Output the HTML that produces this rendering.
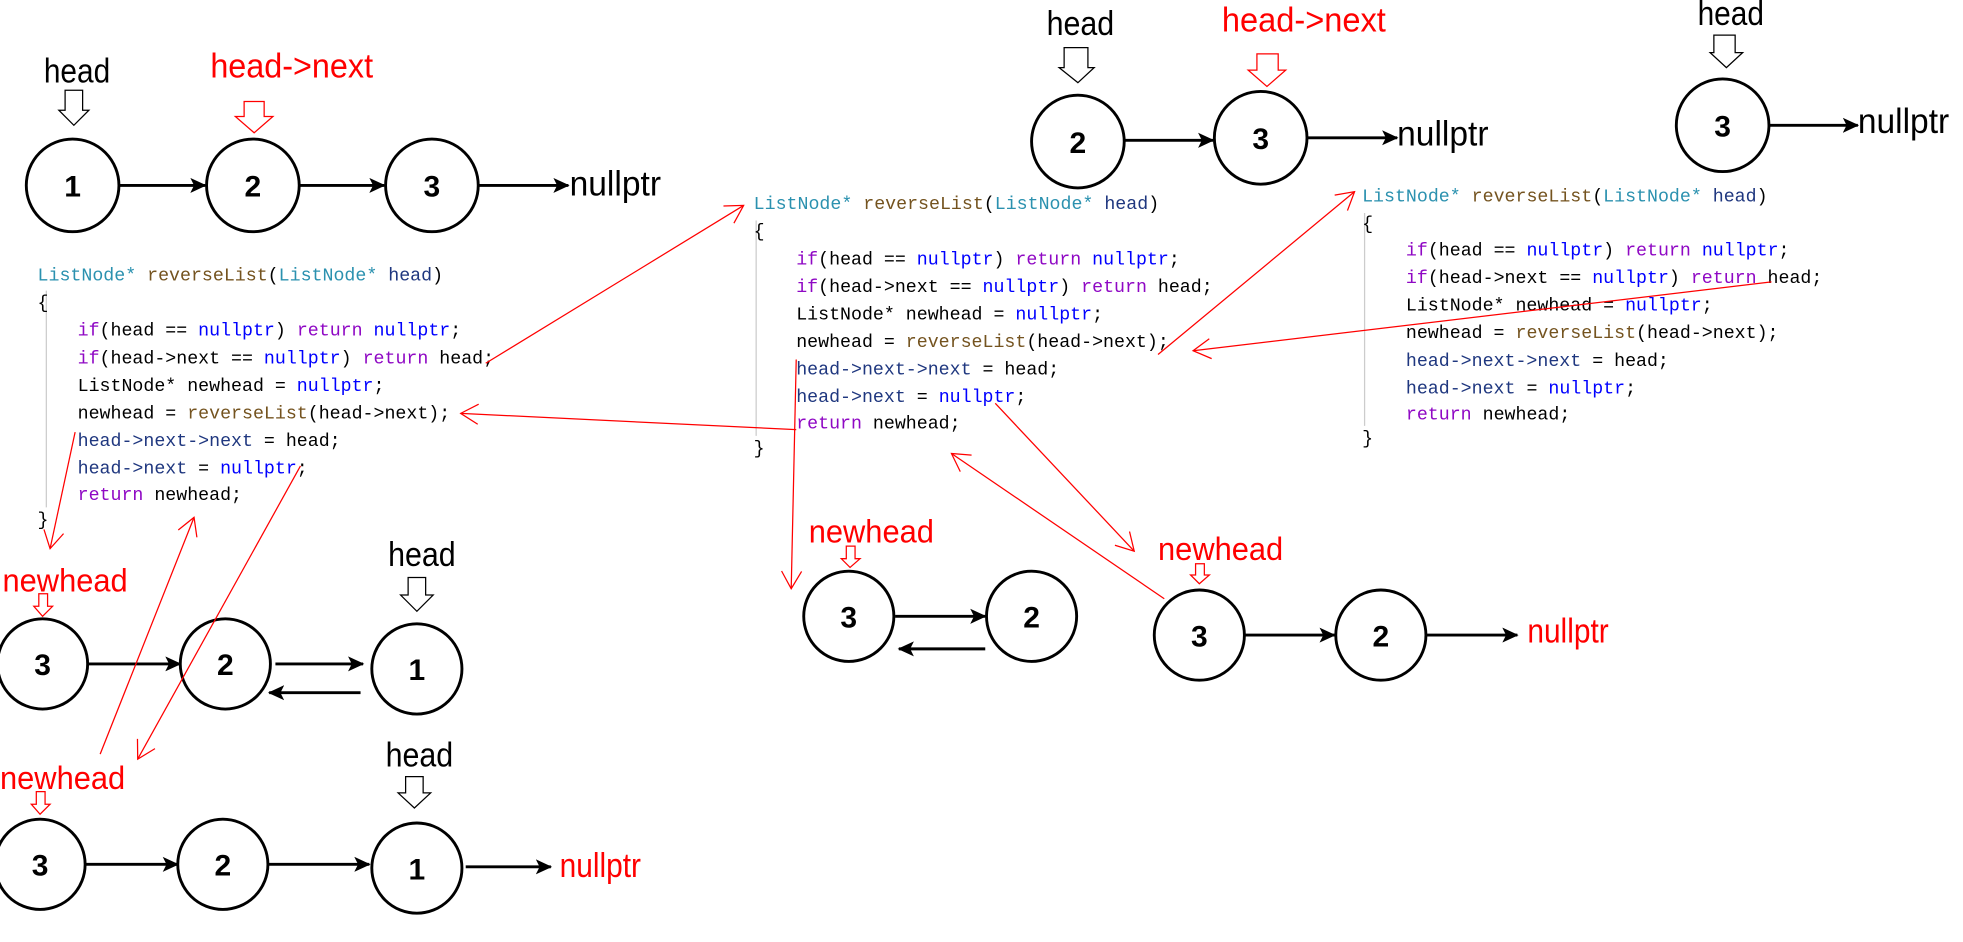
<!DOCTYPE html>
<html><head><meta charset="utf-8"><style>
html,body{margin:0;padding:0;background:#fff;}
svg{display:block;}
.h{font-family:"Liberation Sans",sans-serif;font-size:27px;}
.n{font-family:"Liberation Sans",sans-serif;font-size:24px;font-weight:bold;text-anchor:middle;}
.c{font-family:"Liberation Mono",monospace;font-size:14.6px;}
.t{fill:#2b91af}.b{fill:#74531f}.v{fill:#1f377f}.p{fill:#8f08c4}.u{fill:#0000ff}
</style></head><body>
<svg width="1963" height="942" viewBox="0 0 1568 752" preserveAspectRatio="none" xmlns="http://www.w3.org/2000/svg">
<defs>
<marker id="ba" markerUnits="userSpaceOnUse" markerWidth="14" markerHeight="14" refX="12" refY="7" orient="auto"><path d="M0,1 L13,7 L0,13 L3,7 Z" fill="#000"/></marker>
<marker id="ra" markerUnits="userSpaceOnUse" markerWidth="20" markerHeight="20" refX="18" refY="10" orient="auto"><path d="M4,2 L18,10 L4,18" fill="none" stroke="#f00" stroke-width="1"/></marker>
</defs>
<g fill="none" stroke="#000" stroke-width="2.3">
<circle cx="58" cy="148" r="37"/><circle cx="202" cy="148" r="37"/><circle cx="345" cy="148" r="37"/>
<line x1="95" y1="148" x2="164" y2="148" marker-end="url(#ba)"/>
<line x1="239" y1="148" x2="307" y2="148" marker-end="url(#ba)"/>
<line x1="382" y1="148" x2="454" y2="148" marker-end="url(#ba)"/>
<circle cx="861" cy="113" r="37"/><circle cx="1007" cy="110" r="37"/>
<line x1="898" y1="112" x2="969" y2="112" marker-end="url(#ba)"/>
<line x1="1044" y1="110" x2="1116" y2="110" marker-end="url(#ba)"/>
<circle cx="1376" cy="100" r="37"/>
<line x1="1413" y1="100" x2="1484" y2="100" marker-end="url(#ba)"/>
<circle cx="34" cy="530" r="36"/><circle cx="180" cy="530" r="36"/><circle cx="333" cy="534" r="36"/>
<line x1="70" y1="530" x2="144" y2="530" marker-end="url(#ba)"/>
<line x1="220" y1="530" x2="290" y2="530" marker-end="url(#ba)"/>
<line x1="288" y1="553" x2="215" y2="553" marker-end="url(#ba)"/>
<circle cx="32" cy="690" r="36"/><circle cx="178" cy="690" r="36"/><circle cx="333" cy="693" r="36"/>
<line x1="68" y1="690" x2="142" y2="690" marker-end="url(#ba)"/>
<line x1="214" y1="690" x2="295" y2="690" marker-end="url(#ba)"/>
<line x1="372" y1="692" x2="440" y2="692" marker-end="url(#ba)"/>
<circle cx="678" cy="492" r="36"/><circle cx="824" cy="492" r="36"/>
<line x1="715" y1="492" x2="787" y2="492" marker-end="url(#ba)"/>
<line x1="787" y1="518" x2="718" y2="518" marker-end="url(#ba)"/>
<circle cx="958" cy="507" r="36"/><circle cx="1103" cy="507" r="36"/>
<line x1="994" y1="507" x2="1066" y2="507" marker-end="url(#ba)"/>
<line x1="1139" y1="507" x2="1212" y2="507" marker-end="url(#ba)"/>
</g>
<g class="n">
<text x="58" y="157">1</text><text x="202" y="157">2</text><text x="345" y="157">3</text>
<text x="861" y="122">2</text><text x="1007" y="119">3</text><text x="1376" y="109">3</text>
<text x="34" y="539">3</text><text x="180" y="539">2</text><text x="333" y="543">1</text>
<text x="32" y="699">3</text><text x="178" y="699">2</text><text x="333" y="702">1</text>
<text x="678" y="501">3</text><text x="824" y="501">2</text>
<text x="958" y="516">3</text><text x="1103" y="516">2</text>
</g>
<g class="h">
<text x="35" y="66" textLength="53" lengthAdjust="spacingAndGlyphs">head</text>
<text x="168" y="62" fill="#f00" textLength="130" lengthAdjust="spacingAndGlyphs">head-&gt;next</text>
<text x="455" y="156" font-size="28" textLength="73" lengthAdjust="spacingAndGlyphs">nullptr</text>
<text x="836" y="28" textLength="54" lengthAdjust="spacingAndGlyphs">head</text>
<text x="976" y="25" fill="#f00" textLength="131" lengthAdjust="spacingAndGlyphs">head-&gt;next</text>
<text x="1116" y="116" font-size="28" textLength="73" lengthAdjust="spacingAndGlyphs">nullptr</text>
<text x="1356" y="20" textLength="53" lengthAdjust="spacingAndGlyphs">head</text>
<text x="1484" y="106" font-size="28" textLength="73" lengthAdjust="spacingAndGlyphs">nullptr</text>
<text x="2" y="472" fill="#f00" font-size="26" textLength="100" lengthAdjust="spacingAndGlyphs">newhead</text>
<text x="310" y="452" textLength="54" lengthAdjust="spacingAndGlyphs">head</text>
<text x="0" y="630" fill="#f00" font-size="26" textLength="100" lengthAdjust="spacingAndGlyphs">newhead</text>
<text x="308" y="612" textLength="54" lengthAdjust="spacingAndGlyphs">head</text>
<text x="447" y="700" fill="#f00" textLength="65" lengthAdjust="spacingAndGlyphs">nullptr</text>
<text x="646" y="433" fill="#f00" font-size="26" textLength="100" lengthAdjust="spacingAndGlyphs">newhead</text>
<text x="925" y="447" fill="#f00" font-size="26" textLength="100" lengthAdjust="spacingAndGlyphs">newhead</text>
<text x="1220" y="513" fill="#f00" textLength="65" lengthAdjust="spacingAndGlyphs">nullptr</text>
</g>
<g fill="#fff" stroke="#000" stroke-width="1">
<polygon points="52,72 66,72 66,88 71,88 59,100 47,88 52,88"/>
<polygon points="850,38 869,38 869,54 874,54 861,66 846,54 850,54"/>
<polygon points="1369,28 1386,28 1386,42 1392,42 1379,54 1366,42 1369,42"/>
<polygon points="326,461 340,461 340,475 346,475 333,488 320,475 326,475"/>
<polygon points="324,620 338,620 338,633 344,633 331,645 318,633 324,633"/>
</g>
<g fill="#fff" stroke="#f00" stroke-width="1">
<polygon points="195,81 211,81 211,93 218,93 203,106 188,93 195,93"/>
<polygon points="1004,43 1021,43 1021,56 1027,56 1012,69 997,56 1004,56"/>
<polygon points="31,474 38,474 38,484 42,484 34,492 27,484 31,484"/>
<polygon points="29,632 36,632 36,642 40,642 32,650 25,642 29,642"/>
<polygon points="676,436 683,436 683,446 687,446 679,453 672,446 676,446"/>
<polygon points="955,450 962,450 962,459 966,459 958,466 951,459 955,459"/>
</g>
<g stroke="#ccc" stroke-width="1"><line x1="37" y1="232" x2="37" y2="405"/><line x1="604" y1="176" x2="604" y2="348"/><line x1="1090" y1="170" x2="1090" y2="340"/></g>
<g class="c" xml:space="preserve">
<text x="30" y="224"><tspan class="t">ListNode*</tspan> <tspan class="b">reverseList</tspan>(<tspan class="t">ListNode*</tspan> <tspan class="v">head</tspan>)</text>
<text x="30" y="246">{</text>
<text x="62" y="268"><tspan class="p">if</tspan>(head == <tspan class="u">nullptr</tspan>) <tspan class="p">return</tspan> <tspan class="u">nullptr</tspan>;</text>
<text x="62" y="290"><tspan class="p">if</tspan>(head-&gt;next == <tspan class="u">nullptr</tspan>) <tspan class="p">return</tspan> head;</text>
<text x="62" y="312">ListNode* newhead = <tspan class="u">nullptr</tspan>;</text>
<text x="62" y="334">newhead = <tspan class="b">reverseList</tspan>(head-&gt;next);</text>
<text x="62" y="356"><tspan class="v">head-&gt;next-&gt;next</tspan> = head;</text>
<text x="62" y="378"><tspan class="v">head-&gt;next</tspan> = <tspan class="u">nullptr</tspan>;</text>
<text x="62" y="399"><tspan class="p">return</tspan> newhead;</text>
<text x="30" y="419">}</text>

<text x="602" y="167"><tspan class="t">ListNode*</tspan> <tspan class="b">reverseList</tspan>(<tspan class="t">ListNode*</tspan> <tspan class="v">head</tspan>)</text>
<text x="602" y="189">{</text>
<text x="636" y="211"><tspan class="p">if</tspan>(head == <tspan class="u">nullptr</tspan>) <tspan class="p">return</tspan> <tspan class="u">nullptr</tspan>;</text>
<text x="636" y="233"><tspan class="p">if</tspan>(head-&gt;next == <tspan class="u">nullptr</tspan>) <tspan class="p">return</tspan> head;</text>
<text x="636" y="255">ListNode* newhead = <tspan class="u">nullptr</tspan>;</text>
<text x="636" y="277">newhead = <tspan class="b">reverseList</tspan>(head-&gt;next);</text>
<text x="636" y="299"><tspan class="v">head-&gt;next-&gt;next</tspan> = head;</text>
<text x="636" y="321"><tspan class="v">head-&gt;next</tspan> = <tspan class="u">nullptr</tspan>;</text>
<text x="636" y="342"><tspan class="p">return</tspan> newhead;</text>
<text x="602" y="362">}</text>

<text x="1088" y="161"><tspan class="t">ListNode*</tspan> <tspan class="b">reverseList</tspan>(<tspan class="t">ListNode*</tspan> <tspan class="v">head</tspan>)</text>
<text x="1088" y="183">{</text>
<text x="1123" y="204"><tspan class="p">if</tspan>(head == <tspan class="u">nullptr</tspan>) <tspan class="p">return</tspan> <tspan class="u">nullptr</tspan>;</text>
<text x="1123" y="226"><tspan class="p">if</tspan>(head-&gt;next == <tspan class="u">nullptr</tspan>) <tspan class="p">return</tspan> head;</text>
<text x="1123" y="248">ListNode* newhead = <tspan class="u">nullptr</tspan>;</text>
<text x="1123" y="270">newhead = <tspan class="b">reverseList</tspan>(head-&gt;next);</text>
<text x="1123" y="292"><tspan class="v">head-&gt;next-&gt;next</tspan> = head;</text>
<text x="1123" y="314"><tspan class="v">head-&gt;next</tspan> = <tspan class="u">nullptr</tspan>;</text>
<text x="1123" y="335"><tspan class="p">return</tspan> newhead;</text>
<text x="1088" y="354">}</text>
</g>
<g fill="none" stroke="#f00" stroke-width="1">
<line x1="388" y1="290" x2="594" y2="164" marker-end="url(#ra)"/>
<line x1="636" y1="343" x2="368" y2="330" marker-end="url(#ra)"/>
<line x1="925" y1="283" x2="1082" y2="153" marker-end="url(#ra)"/>
<line x1="1415" y1="225" x2="953" y2="280" marker-end="url(#ra)"/>
<line x1="636" y1="287" x2="632" y2="470" marker-end="url(#ra)"/>
<line x1="795" y1="322" x2="906" y2="440" marker-end="url(#ra)"/>
<line x1="930" y1="478" x2="760" y2="362" marker-end="url(#ra)"/>
<line x1="60" y1="345" x2="40" y2="438" marker-end="url(#ra)"/>
<line x1="80" y1="602" x2="155" y2="413" marker-end="url(#ra)"/>
<line x1="240" y1="372" x2="110" y2="606" marker-end="url(#ra)"/>
</g>
</svg>
</body></html>
